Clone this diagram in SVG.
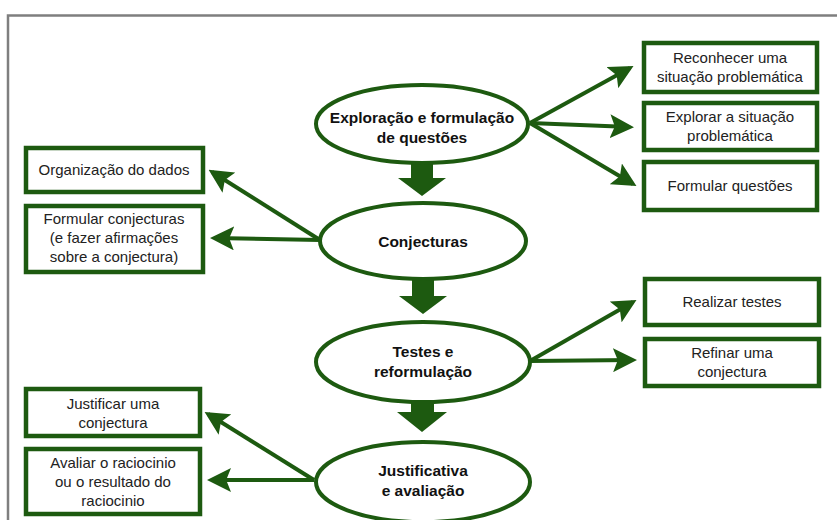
<svg xmlns="http://www.w3.org/2000/svg" width="837" height="520" viewBox="0 0 837 520">
<defs>
<style>
.frame{fill:none;stroke:#7f7f7f;stroke-width:2.5}
.ell{fill:#fff;stroke:#1d5a10;stroke-width:4}
.box{fill:#fff;stroke:#1d5a10;stroke-width:4.5}
.con{fill:none;stroke:#1d5a10;stroke-width:4}
.blk{fill:#1d5a10}
.et{font-family:"Liberation Sans",Arial,sans-serif;font-weight:bold;font-size:15.5px;fill:#111;text-anchor:middle}
.bt{font-family:"Liberation Sans",Arial,sans-serif;font-size:15px;fill:#222;text-anchor:middle}
</style>
<marker id="ah" markerWidth="6" markerHeight="6" refX="5" refY="3" orient="auto" markerUnits="strokeWidth">
<path d="M0,0 L6,3 L0,6 L1.2,3 Z" fill="#1d5a10"/>
</marker>
</defs>
<rect width="837" height="520" fill="#fff"/>
<path class="frame" d="M8,520 V15.5 H837"/>

<g id="connectors">
<path class="con" marker-end="url(#ah)" d="M530,123 L630,68"/>
<path class="con" marker-end="url(#ah)" d="M530,123 L630,127"/>
<path class="con" marker-end="url(#ah)" d="M530,123 L633,184"/>
<path class="con" marker-end="url(#ah)" d="M320,240 L212,172"/>
<path class="con" marker-end="url(#ah)" d="M320,240 L214,238"/>
<path class="con" marker-end="url(#ah)" d="M530,361 L633,302"/>
<path class="con" marker-end="url(#ah)" d="M530,361 L633,360"/>
<path class="con" marker-end="url(#ah)" d="M314,480 L208,414"/>
<path class="con" marker-end="url(#ah)" d="M314,480 L211,480"/>
<path class="blk" d="M411,155 H433 V178 H446 L422,196 L398,178 H411 Z"/>
<path class="blk" d="M412,280 H434 V296 H447 L423,314 L399,296 H412 Z"/>
<path class="blk" d="M411,400 H434 V412 H447 L422,432 L397,412 H411 Z"/>
</g>

<g id="n-exploracao">
<ellipse class="ell" cx="422" cy="124" rx="106" ry="39"/>
<text class="et" x="422" y="123">Exploração e formulação</text>
<text class="et" x="422" y="143">de questões</text>
</g>
<g id="n-conjecturas">
<ellipse class="ell" cx="423" cy="241" rx="103" ry="38"/>
<text class="et" x="423" y="247">Conjecturas</text>
</g>
<g id="n-testes">
<ellipse class="ell" cx="423" cy="362" rx="107" ry="40"/>
<text class="et" x="423" y="357">Testes e</text>
<text class="et" x="423" y="377">reformulação</text>
</g>
<g id="n-justificativa">
<ellipse class="ell" cx="423" cy="482" rx="107" ry="40"/>
<text class="et" x="423" y="476">Justificativa</text>
<text class="et" x="423" y="496">e avaliação</text>
</g>

<g id="b-reconhecer">
<rect class="box" x="644" y="43" width="173" height="49"/>
<text class="bt" x="730" y="63">Reconhecer uma</text>
<text class="bt" x="730" y="82">situação problemática</text>
</g>
<g id="b-explorar">
<rect class="box" x="644" y="103" width="173" height="47"/>
<text class="bt" x="730" y="122">Explorar a situação</text>
<text class="bt" x="730" y="141">problemática</text>
</g>
<g id="b-formular-q">
<rect class="box" x="644" y="162" width="173" height="48"/>
<text class="bt" x="730" y="191">Formular questões</text>
</g>
<g id="b-organizacao">
<rect class="box" x="26" y="148" width="177" height="44"/>
<text class="bt" x="114" y="175">Organização do dados</text>
</g>
<g id="b-formular-c">
<rect class="box" x="26" y="206" width="177" height="66"/>
<text class="bt" x="114" y="224">Formular conjecturas</text>
<text class="bt" x="114" y="243">(e fazer afirmações</text>
<text class="bt" x="114" y="262">sobre a conjectura)</text>
</g>
<g id="b-realizar">
<rect class="box" x="645" y="279" width="174" height="46"/>
<text class="bt" x="732" y="307">Realizar testes</text>
</g>
<g id="b-refinar">
<rect class="box" x="645" y="339" width="174" height="47"/>
<text class="bt" x="732" y="358">Refinar uma</text>
<text class="bt" x="732" y="377">conjectura</text>
</g>
<g id="b-justificar">
<rect class="box" x="26" y="389" width="174" height="47"/>
<text class="bt" x="113" y="409">Justificar uma</text>
<text class="bt" x="113" y="428">conjectura</text>
</g>
<g id="b-avaliar">
<rect class="box" x="26" y="449" width="174" height="65"/>
<text class="bt" x="113" y="468">Avaliar o raciocinio</text>
<text class="bt" x="113" y="487">ou o resultado do</text>
<text class="bt" x="113" y="506">raciocinio</text>
</g>
</svg>
